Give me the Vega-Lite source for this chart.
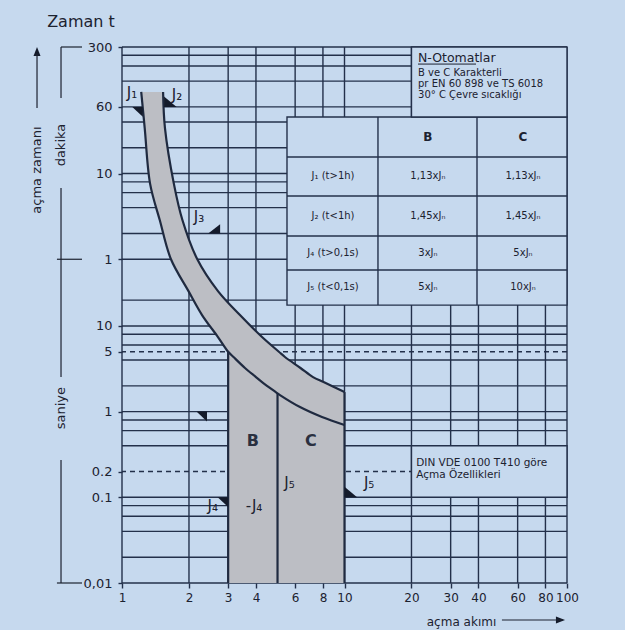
{
  "$schema": "https://vega.github.io/schema/vega-lite/v6.json",
  "width": 445,
  "height": 536,
  "autosize": {"type": "none"},
  "padding": {"left": 122, "top": 47, "right": 58, "bottom": 47},
  "background": "#c6d9ee",
  "config": {"view": {"stroke": null}, "text": {"font": "DejaVu Sans", "color": "#1c2230"}},
  "datasets": {
    "hgrid": [
      {"t": 18000, "dash": false}, {"t": 14400, "dash": false}, {"t": 10800, "dash": false}, {"t": 7200, "dash": false},
      {"t": 3600, "dash": false}, {"t": 2400, "dash": false}, {"t": 1200, "dash": false}, {"t": 600, "dash": false},
      {"t": 480, "dash": false}, {"t": 360, "dash": false}, {"t": 240, "dash": false}, {"t": 120, "dash": false},
      {"t": 60, "dash": false}, {"t": 20, "dash": false}, {"t": 10, "dash": false}, {"t": 8, "dash": false},
      {"t": 6, "dash": false}, {"t": 5, "dash": true}, {"t": 4, "dash": false}, {"t": 2, "dash": false},
      {"t": 1, "dash": false}, {"t": 0.8, "dash": false}, {"t": 0.6, "dash": false}, {"t": 0.4, "dash": false},
      {"t": 0.2, "dash": true}, {"t": 0.1, "dash": false}, {"t": 0.08, "dash": false}, {"t": 0.06, "dash": false},
      {"t": 0.04, "dash": false}, {"t": 0.02, "dash": false}, {"t": 0.01, "dash": false}
    ],
    "vgrid": [{"c": 1}, {"c": 2}, {"c": 3}, {"c": 4}, {"c": 6}, {"c": 8}, {"c": 10}, {"c": 20}, {"c": 30}, {"c": 40}, {"c": 60}, {"c": 80}, {"c": 100}],
    "boxes": [
      {"x1": 5.515, "x2": 100, "t1": 17.5, "t2": 2740},
      {"x1": 20, "x2": 100, "t1": 2740, "t2": 18000},
      {"x1": 20, "x2": 100, "t1": 0.1, "t2": 0.4}
    ],
    "tlines": [
      {"x1": 14.14, "x2": 14.14, "t1": 17.5, "t2": 2740},
      {"x1": 39.4, "x2": 39.4, "t1": 17.5, "t2": 2740},
      {"x1": 5.515, "x2": 100, "t1": 935, "t2": 935},
      {"x1": 5.515, "x2": 100, "t1": 328, "t2": 328},
      {"x1": 5.515, "x2": 100, "t1": 112, "t2": 112},
      {"x1": 5.515, "x2": 100, "t1": 44.9, "t2": 44.9}
    ],
    "band": [
      {"t": 5383, "xl": 1.22, "xr": 1.53},
      {"t": 2037, "xl": 1.265, "xr": 1.56},
      {"t": 458, "xl": 1.337, "xr": 1.71},
      {"t": 171, "xl": 1.479, "xr": 1.87},
      {"t": 60, "xl": 1.66, "xr": 2.18},
      {"t": 25.5, "xl": 1.99, "xr": 2.7},
      {"t": 13.4, "xl": 2.29, "xr": 3.39},
      {"t": 7.42, "xl": 2.7, "xr": 4.26},
      {"t": 5.0, "xl": 3.0, "xr": 5.07},
      {"t": 4.34, "xl": 3.17, "xr": 5.4},
      {"t": 3.23, "xl": 3.57, "xr": 6.34},
      {"t": 2.53, "xl": 4.0, "xr": 7.22},
      {"t": 2.21, "xl": 4.26, "xr": 8.05},
      {"t": 1.69, "xl": 4.91, "xr": 10},
      {"t": 1.56, "xl": 5.13, "xr": 10},
      {"t": 1.13, "xl": 6.31, "xr": 10},
      {"t": 0.865, "xl": 7.92, "xr": 10},
      {"t": 0.698, "xl": 10, "xr": 10}
    ],
    "lower": [
      {"x": 3.0, "t": 5.0, "t0": 0.01}, {"x": 3.17, "t": 4.34, "t0": 0.01}, {"x": 3.57, "t": 3.23, "t0": 0.01},
      {"x": 4.0, "t": 2.53, "t0": 0.01}, {"x": 4.26, "t": 2.21, "t0": 0.01}, {"x": 4.91, "t": 1.69, "t0": 0.01},
      {"x": 5.13, "t": 1.56, "t0": 0.01}, {"x": 6.31, "t": 1.13, "t0": 0.01}, {"x": 7.92, "t": 0.865, "t0": 0.01},
      {"x": 10, "t": 0.698, "t0": 0.01}
    ],
    "bounds": [{"x": 3, "t": 5.0, "t0": 0.01}, {"x": 5, "t": 1.65, "t0": 0.01}, {"x": 10, "t": 1.69, "t0": 0.01}],
    "markers": [
      {"x": 1.24, "t": 3600, "kind": "dl"},
      {"x": 1.545, "t": 3600, "kind": "ur"},
      {"x": 2.76, "t": 120, "kind": "ul"},
      {"x": 2.41, "t": 1, "kind": "dl"},
      {"x": 3, "t": 0.1, "kind": "dl"},
      {"x": 10, "t": 0.1, "kind": "ur"},
      {"x": 0.415, "t": 18000, "kind": "up"},
      {"x": 98, "t": 0.0037, "kind": "right"}
    ],
    "clabels": [
      {"x": 1.109, "t": 5220, "label": "J₁"},
      {"x": 1.766, "t": 4945, "label": "J₂"},
      {"x": 2.22, "t": 187, "label": "J₃"},
      {"x": 5.66, "t": 0.147, "label": "J₅"},
      {"x": 12.9, "t": 0.147, "label": "J₅"},
      {"x": 2.56, "t": 0.079, "label": "J₄"},
      {"x": 3.92, "t": 0.079, "label": "-J₄"}
    ],
    "regions": [{"x": 3.87, "t": 0.45, "label": "B"}, {"x": 7.07, "t": 0.45, "label": "C"}],
    "thead": [{"x": 23.7, "t": 1600, "label": "B"}, {"x": 63.4, "t": 1600, "label": "C"}],
    "tcells": [
      {"x": 8.88, "t": 561, "label": "J₁ (t>1h)"}, {"x": 23.7, "t": 561, "label": "1,13xJₙ"}, {"x": 63.4, "t": 561, "label": "1,13xJₙ"},
      {"x": 8.88, "t": 191.6, "label": "J₂ (t<1h)"}, {"x": 23.7, "t": 191.6, "label": "1,45xJₙ"}, {"x": 63.4, "t": 191.6, "label": "1,45xJₙ"},
      {"x": 8.88, "t": 70.9, "label": "J₄ (t>0,1s)"}, {"x": 23.7, "t": 70.9, "label": "3xJₙ"}, {"x": 63.4, "t": 70.9, "label": "5xJₙ"},
      {"x": 8.88, "t": 28.4, "label": "J₅ (t<0,1s)"}, {"x": 23.7, "t": 28.4, "label": "5xJₙ"}, {"x": 63.4, "t": 28.4, "label": "10xJₙ"}
    ],
    "ntitle": [{"x": 21.4, "t": 13370, "label": "N-Otomatlar"}],
    "nlines": [
      {"x": 21.4, "t": 8930, "label": "B ve C Karakterli"},
      {"x": 21.4, "t": 6650, "label": "pr EN 60 898 ve TS 6018"},
      {"x": 21.4, "t": 4945, "label": "30° C Çevre sıcaklığı"}
    ],
    "uline": [{"x1": 21.4, "x2": 39, "t": 11380}],
    "din": [
      {"x": 21, "t": 0.251, "label": "DIN VDE 0100 T410 göre"},
      {"x": 21, "t": 0.182, "label": "Açma Özellikleri"}
    ],
    "decor": [
      {"x1": 0.415, "x2": 0.415, "t1": 3490, "t2": 15000},
      {"x1": 0.532, "x2": 0.532, "t1": 4560, "t2": 18000},
      {"x1": 0.532, "x2": 0.661, "t1": 18000, "t2": 18000},
      {"x1": 0.532, "x2": 0.532, "t1": 2.53, "t2": 406},
      {"x1": 0.51, "x2": 0.661, "t1": 60, "t2": 60},
      {"x1": 0.532, "x2": 0.532, "t1": 0.01, "t2": 0.272},
      {"x1": 0.51, "x2": 0.661, "t1": 0.01, "t2": 0.01},
      {"x1": 51, "x2": 96, "t1": 0.0037, "t2": 0.0037}
    ],
    "vtext": [
      {"x": 0.415, "t": 659, "label": "açma zamanı"},
      {"x": 0.532, "t": 1291, "label": "dakika"},
      {"x": 0.532, "t": 1.1, "label": "saniye"}
    ],
    "ztitle": [{"x": 0.654, "t": 35200, "label": "Zaman t"}]
  },
  "layer": [
    {
      "data": {"name": "hgrid"},
      "transform": [{"filter": "!datum.dash"}],
      "mark": {"type": "rule", "color": "#23304a", "strokeWidth": 1.4},
      "encoding": {
        "y": {"field": "t", "type": "quantitative", "scale": {"type": "log", "domain": [0.01, 18000], "nice": false},
          "axis": {"values": [0.01, 0.1, 0.2, 1, 5, 10, 60, 600, 3600, 18000],
            "labelExpr": "datum.value >= 60 ? format(datum.value / 60, 'd') : (datum.value == 0.01 ? '0,01' : format(datum.value, '~g'))",
            "domain": false, "ticks": true, "tickSize": 4, "tickColor": "#23304a", "tickWidth": 1.4, "grid": false, "labelPadding": 6, "labelFontSize": 13, "labelFont": "DejaVu Sans",
            "labelColor": "#1c2230", "labelFlush": false, "labelOverlap": false, "labelBound": false, "title": null}}
      }
    },
    {
      "data": {"name": "hgrid"},
      "transform": [{"filter": "datum.dash"}],
      "mark": {"type": "rule", "color": "#23304a", "strokeWidth": 1.3, "strokeDash": [5, 4]},
      "encoding": {
        "y": {"field": "t", "type": "quantitative", "scale": {"type": "log", "domain": [0.01, 18000], "nice": false}}
      }
    },
    {
      "data": {"name": "vgrid"},
      "mark": {"type": "rule", "color": "#23304a", "strokeWidth": 1.4},
      "encoding": {
        "x": {"field": "c", "type": "quantitative", "scale": {"type": "log", "domain": [1, 100], "nice": false},
          "axis": {"values": [1, 2, 3, 4, 6, 8, 10, 20, 30, 40, 60, 80, 100], "format": "d", "domain": false, "ticks": true, "tickSize": 5,
            "tickColor": "#23304a", "tickWidth": 1.4, "grid": false,
            "labelPadding": 4, "labelFontSize": 12, "labelFont": "DejaVu Sans", "labelColor": "#1c2230", "labelFlush": false,
            "labelOverlap": false, "labelBound": false, "title": "açma akımı", "titleFont": "DejaVu Sans", "titleFontSize": 12,
            "titleFontWeight": "normal", "titleColor": "#1c2230", "titleX": 339, "titleY": 42, "titleAlign": "center", "titleBaseline": "alphabetic"}}
      }
    },
    {
      "data": {"name": "boxes"},
      "mark": {"type": "rect", "fill": "#c6d9ee", "stroke": "#23304a", "strokeWidth": 1.4},
      "encoding": {
        "x": {"field": "x1", "type": "quantitative", "scale": {"type": "log", "domain": [1, 100], "nice": false}},
        "x2": {"field": "x2"},
        "y": {"field": "t1", "type": "quantitative", "scale": {"type": "log", "domain": [0.01, 18000], "nice": false}},
        "y2": {"field": "t2"}
      }
    },
    {
      "data": {"name": "tlines"},
      "mark": {"type": "rule", "color": "#23304a", "strokeWidth": 1.4},
      "encoding": {
        "x": {"field": "x1", "type": "quantitative", "scale": {"type": "log", "domain": [1, 100], "nice": false}},
        "x2": {"field": "x2"},
        "y": {"field": "t1", "type": "quantitative", "scale": {"type": "log", "domain": [0.01, 18000], "nice": false}},
        "y2": {"field": "t2"}
      }
    },
    {
      "data": {"name": "band"},
      "mark": {"type": "area", "orient": "horizontal", "interpolate": "catmull-rom", "color": "#bcbec4", "opacity": 1},
      "encoding": {
        "y": {"field": "t", "type": "quantitative", "scale": {"type": "log", "domain": [0.01, 18000], "nice": false}},
        "x": {"field": "xl", "type": "quantitative", "scale": {"type": "log", "domain": [1, 100], "nice": false}},
        "x2": {"field": "xr"}
      }
    },
    {
      "data": {"name": "lower"},
      "mark": {"type": "area", "orient": "vertical", "interpolate": "catmull-rom", "color": "#bcbec4", "opacity": 1},
      "encoding": {
        "x": {"field": "x", "type": "quantitative", "scale": {"type": "log", "domain": [1, 100], "nice": false}},
        "y": {"field": "t", "type": "quantitative", "scale": {"type": "log", "domain": [0.01, 18000], "nice": false}},
        "y2": {"field": "t0"}
      }
    },
    {
      "data": {"name": "band"},
      "transform": [{"fold": ["xl", "xr"], "as": ["side", "x"]}, {"filter": "datum.side == 'xl' || datum.t >= 1.69"}],
      "mark": {"type": "line", "interpolate": "catmull-rom", "color": "#1f2a40", "strokeWidth": 2.2},
      "encoding": {
        "x": {"field": "x", "type": "quantitative", "scale": {"type": "log", "domain": [1, 100], "nice": false}},
        "y": {"field": "t", "type": "quantitative", "scale": {"type": "log", "domain": [0.01, 18000], "nice": false}},
        "detail": {"field": "side", "type": "nominal"},
        "order": {"field": "t", "type": "quantitative", "sort": "descending"}
      }
    },
    {
      "data": {"name": "bounds"},
      "mark": {"type": "rule", "color": "#1f2a40", "strokeWidth": 2.2},
      "encoding": {
        "x": {"field": "x", "type": "quantitative", "scale": {"type": "log", "domain": [1, 100], "nice": false}},
        "y": {"field": "t0", "type": "quantitative", "scale": {"type": "log", "domain": [0.01, 18000], "nice": false}},
        "y2": {"field": "t"}
      }
    },
    {
      "data": {"name": "markers"},
      "mark": {"type": "point", "filled": true, "opacity": 1, "color": "#141b2b", "size": 196, "strokeWidth": 0},
      "encoding": {
        "x": {"field": "x", "type": "quantitative", "scale": {"type": "log", "domain": [1, 100], "nice": false}},
        "y": {"field": "t", "type": "quantitative", "scale": {"type": "log", "domain": [0.01, 18000], "nice": false}},
        "shape": {"field": "kind", "type": "nominal", "legend": null,
          "scale": {"domain": ["ur", "dl", "ul", "up", "right"],
            "range": ["M0,0L1.8,0L0,-1.5Z", "M0,0L-1.5,0L0,1.4Z", "M0,0L-1.7,0L0,-1.3Z", "M0,0L0.5,1.3L-0.5,1.3Z", "M0,0L-1.3,-0.5L-1.3,0.5Z"]}}
      }
    },
    {
      "data": {"name": "clabels"},
      "mark": {"type": "text", "fontSize": 15, "baseline": "middle", "align": "center", "color": "#1c2230"},
      "encoding": {
        "x": {"field": "x", "type": "quantitative", "scale": {"type": "log", "domain": [1, 100], "nice": false}},
        "y": {"field": "t", "type": "quantitative", "scale": {"type": "log", "domain": [0.01, 18000], "nice": false}},
        "text": {"field": "label", "type": "nominal"}
      }
    },
    {
      "data": {"name": "regions"},
      "mark": {"type": "text", "fontSize": 16, "fontWeight": "bold", "baseline": "middle", "align": "center", "color": "#2a3040"},
      "encoding": {
        "x": {"field": "x", "type": "quantitative", "scale": {"type": "log", "domain": [1, 100], "nice": false}},
        "y": {"field": "t", "type": "quantitative", "scale": {"type": "log", "domain": [0.01, 18000], "nice": false}},
        "text": {"field": "label", "type": "nominal"}
      }
    },
    {
      "data": {"name": "thead"},
      "mark": {"type": "text", "fontSize": 12, "fontWeight": "bold", "baseline": "middle", "align": "center", "color": "#1c2230"},
      "encoding": {
        "x": {"field": "x", "type": "quantitative", "scale": {"type": "log", "domain": [1, 100], "nice": false}},
        "y": {"field": "t", "type": "quantitative", "scale": {"type": "log", "domain": [0.01, 18000], "nice": false}},
        "text": {"field": "label", "type": "nominal"}
      }
    },
    {
      "data": {"name": "tcells"},
      "mark": {"type": "text", "fontSize": 10, "baseline": "middle", "align": "center", "color": "#1c2230"},
      "encoding": {
        "x": {"field": "x", "type": "quantitative", "scale": {"type": "log", "domain": [1, 100], "nice": false}},
        "y": {"field": "t", "type": "quantitative", "scale": {"type": "log", "domain": [0.01, 18000], "nice": false}},
        "text": {"field": "label", "type": "nominal"}
      }
    },
    {
      "data": {"name": "ntitle"},
      "mark": {"type": "text", "fontSize": 12.5, "baseline": "middle", "align": "left", "color": "#1c2230"},
      "encoding": {
        "x": {"field": "x", "type": "quantitative", "scale": {"type": "log", "domain": [1, 100], "nice": false}},
        "y": {"field": "t", "type": "quantitative", "scale": {"type": "log", "domain": [0.01, 18000], "nice": false}},
        "text": {"field": "label", "type": "nominal"}
      }
    },
    {
      "data": {"name": "nlines"},
      "mark": {"type": "text", "fontSize": 10, "baseline": "middle", "align": "left", "color": "#1c2230"},
      "encoding": {
        "x": {"field": "x", "type": "quantitative", "scale": {"type": "log", "domain": [1, 100], "nice": false}},
        "y": {"field": "t", "type": "quantitative", "scale": {"type": "log", "domain": [0.01, 18000], "nice": false}},
        "text": {"field": "label", "type": "nominal"}
      }
    },
    {
      "data": {"name": "uline"},
      "mark": {"type": "rule", "color": "#1c2230", "strokeWidth": 1},
      "encoding": {
        "x": {"field": "x1", "type": "quantitative", "scale": {"type": "log", "domain": [1, 100], "nice": false}},
        "x2": {"field": "x2"},
        "y": {"field": "t", "type": "quantitative", "scale": {"type": "log", "domain": [0.01, 18000], "nice": false}}
      }
    },
    {
      "data": {"name": "din"},
      "mark": {"type": "text", "fontSize": 10.5, "baseline": "middle", "align": "left", "color": "#1c2230"},
      "encoding": {
        "x": {"field": "x", "type": "quantitative", "scale": {"type": "log", "domain": [1, 100], "nice": false}},
        "y": {"field": "t", "type": "quantitative", "scale": {"type": "log", "domain": [0.01, 18000], "nice": false}},
        "text": {"field": "label", "type": "nominal"}
      }
    },
    {
      "data": {"name": "decor"},
      "mark": {"type": "rule", "color": "#1c2230", "strokeWidth": 1.2},
      "encoding": {
        "x": {"field": "x1", "type": "quantitative", "scale": {"type": "log", "domain": [1, 100], "nice": false}},
        "x2": {"field": "x2"},
        "y": {"field": "t1", "type": "quantitative", "scale": {"type": "log", "domain": [0.01, 18000], "nice": false}},
        "y2": {"field": "t2"}
      }
    },
    {
      "data": {"name": "vtext"},
      "mark": {"type": "text", "fontSize": 13, "angle": 270, "baseline": "middle", "align": "center", "color": "#1c2230"},
      "encoding": {
        "x": {"field": "x", "type": "quantitative", "scale": {"type": "log", "domain": [1, 100], "nice": false}},
        "y": {"field": "t", "type": "quantitative", "scale": {"type": "log", "domain": [0.01, 18000], "nice": false}},
        "text": {"field": "label", "type": "nominal"}
      }
    },
    {
      "data": {"name": "ztitle"},
      "mark": {"type": "text", "fontSize": 16, "baseline": "middle", "align": "center", "color": "#1c2230"},
      "encoding": {
        "x": {"field": "x", "type": "quantitative", "scale": {"type": "log", "domain": [1, 100], "nice": false}},
        "y": {"field": "t", "type": "quantitative", "scale": {"type": "log", "domain": [0.01, 18000], "nice": false}},
        "text": {"field": "label", "type": "nominal"}
      }
    }
  ]
}
